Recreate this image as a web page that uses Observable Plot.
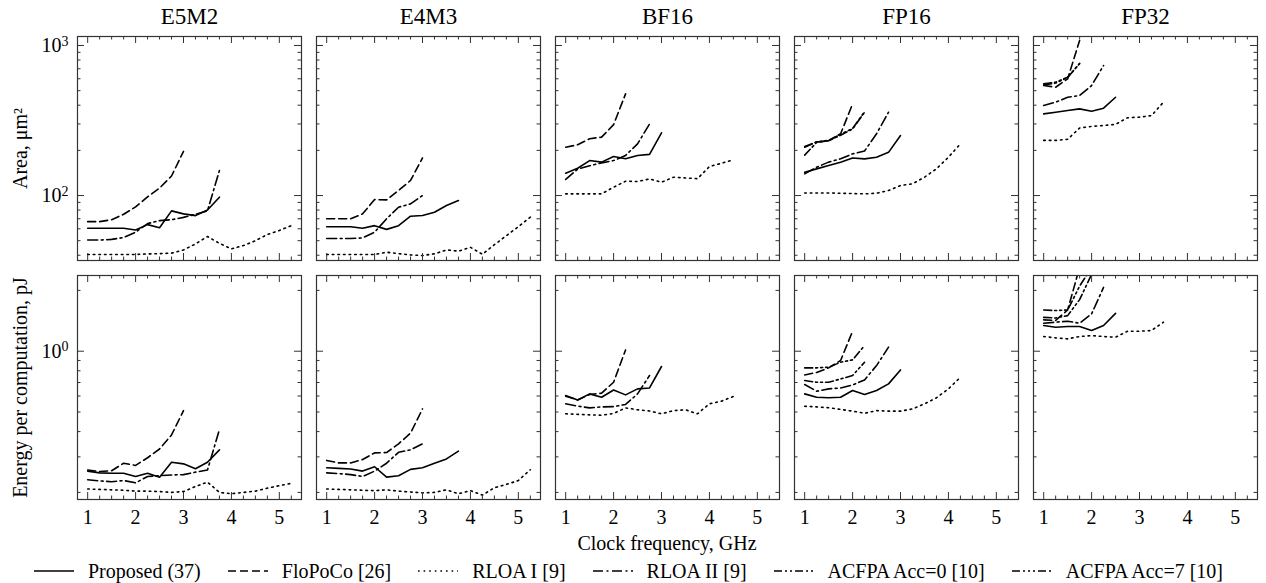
<!DOCTYPE html>
<html><head><meta charset="utf-8">
<script src="https://cdn.jsdelivr.net/npm/d3@7"></script>
<script src="https://cdn.jsdelivr.net/npm/@observablehq/plot@0.6"></script>
<style>
body{margin:0;background:#fff;font-family:"Liberation Serif","Times New Roman",serif;color:#000;}
#wrap{position:relative;width:1266px;height:583px;overflow:hidden;}
#top{position:absolute;left:0;top:0;}
#bot{position:absolute;left:0;top:268px;}
#xtitle{position:absolute;left:77px;width:1180px;top:531px;text-align:center;font-size:20px;line-height:24px;}
#legend{position:absolute;left:33px;top:559px;display:flex;align-items:center;font-size:20px;line-height:24px;white-space:nowrap;}
.item{display:flex;align-items:center;margin-right:26px;}
.item svg{margin-right:13px;}
</style></head><body><div id="wrap"><div id="top"></div><div id="bot"></div><div id="xtitle">Clock frequency, GHz</div><div id="legend"></div></div>
<script>
const formats = ["E5M2", "E4M3", "BF16", "FP16", "FP32"];
const freqs = [1, 1.25, 1.5, 1.75, 2, 2.25, 2.5, 2.75, 3, 3.25, 3.5, 3.75, 4, 4.25, 4.5, 4.75, 5, 5.25];
const seriesNames = ["Proposed (37)", "FloPoCo [26]", "RLOA I [9]", "RLOA II [9]", "ACFPA Acc=0 [10]", "ACFPA Acc=7 [10]"];
const xMajor = [1, 2, 3, 4, 5];
const xMinor = [1.25, 1.5, 1.75, 2.25, 2.5, 2.75, 3.25, 3.5, 3.75, 4.25, 4.5, 4.75, 5.25];
const areaMajor = [100, 1000];
const areaMinor = [40, 50, 60, 70, 80, 90, 200, 300, 400, 500, 600, 700, 800, 900];
const energyMajor = [1];
const energyMinor = [0.2, 0.3, 0.4, 0.5, 0.6, 0.7, 0.8, 0.9, 2];

// Area, um^2 — one inner array per format (E5M2, E4M3, BF16, FP16, FP32), values at freqs[0..]
const areaProposed = [
  [60.5, 60.5, 60.5, 60.5, 59, 64, 61, 79, 75.5, 73.5, 80, 97.5],
  [62, 62, 62, 60.5, 63, 59.5, 63, 72.8, 73.6, 77.4, 85.8, 92.6],
  [141, 152, 171, 167, 182, 176, 185, 188, 262],
  [143, 150.6, 158.5, 166.8, 178, 175.6, 180, 194, 251],
  [350, 359, 369, 378, 365, 382, 452]
];
const areaFloPoCo = [
  [67, 67, 69, 75, 84, 98, 112, 135, 197],
  [70, 70, 70, 75.5, 94, 93.5, 108, 126, 178],
  [210, 218, 239, 245, 297, 476],
  [210, 227, 232, 258, 408],
  [541, 527, 599, 1080]
];
const areaRLOA1 = [
  [40.5, 40.5, 40.5, 40.5, 40.5, 40.8, 41, 41.3, 43.4, 47.6, 53.3, 48, 44.1, 46.4, 50, 55, 58.5, 63],
  [40.5, 40.5, 40.5, 40.5, 40.5, 41.9, 41, 40.2, 39.8, 40.9, 43.4, 42.6, 45.2, 40.6, 47, 54, 62, 71.7],
  [102.6, 102.6, 102.6, 102.6, 113.6, 124.6, 124, 129, 122.7, 132.5, 131, 129.5, 156, 164, 173],
  [104, 104, 104, 103.6, 103, 102.6, 103.6, 108, 116.6, 119.6, 132.5, 150.6, 180, 221],
  [233, 233, 237, 282, 289, 293, 298, 330, 333, 341, 419]
];
const areaRLOA2 = [
  [50.5, 50.5, 51, 52.5, 57, 65, 68, 69, 71.5, 75, 79, 147],
  [51.7, 51.7, 51.7, 52.2, 57, 70, 83.6, 88, 100],
  [128, 150, 158, 165, 171, 185, 221, 300],
  [139.5, 154.5, 167, 175.6, 189.5, 198, 258, 359],
  [398, 419, 452, 464, 541, 736]
];
const areaACFPA0 = [[], [], [], [186, 226, 232, 252, 278, 359], [555, 569, 615, 755]];
const areaACFPA7 = [[], [], [], [212, 228, 233, 256, 280, 362], [545, 562, 612, 760]];

// Energy per computation, pJ
const energyProposed = [
  [0.255, 0.25, 0.249, 0.249, 0.24, 0.249, 0.238, 0.282, 0.277, 0.262, 0.282, 0.325],
  [0.265, 0.263, 0.261, 0.255, 0.268, 0.238, 0.242, 0.26, 0.265, 0.279, 0.293, 0.32],
  [0.603, 0.574, 0.615, 0.592, 0.643, 0.608, 0.651, 0.658, 0.84],
  [0.615, 0.592, 0.588, 0.592, 0.639, 0.611, 0.639, 0.689, 0.808],
  [1.34, 1.315, 1.325, 1.325, 1.266, 1.34, 1.54]
];
const energyFloPoCo = [
  [0.258, 0.254, 0.256, 0.279, 0.272, 0.297, 0.328, 0.385, 0.508],
  [0.288, 0.28, 0.28, 0.291, 0.314, 0.315, 0.348, 0.393, 0.518],
  [0.599, 0.574, 0.61, 0.62, 0.702, 1.015],
  [0.763, 0.785, 0.827, 0.9, 1.256],
  [1.43, 1.42, 1.6, 2.6]
];
const energyRLOA1 = [
  [0.208, 0.207, 0.206, 0.205, 0.203, 0.203, 0.202, 0.2, 0.202, 0.214, 0.225, 0.2, 0.197, 0.2, 0.203, 0.21, 0.216, 0.222],
  [0.208, 0.207, 0.206, 0.205, 0.204, 0.206, 0.203, 0.201, 0.199, 0.2, 0.206, 0.197, 0.204, 0.194, 0.211, 0.219, 0.229, 0.259],
  [0.49, 0.487, 0.484, 0.482, 0.492, 0.524, 0.513, 0.506, 0.49, 0.508, 0.513, 0.49, 0.549, 0.566, 0.597],
  [0.534, 0.53, 0.525, 0.515, 0.505, 0.493, 0.508, 0.505, 0.505, 0.518, 0.549, 0.588, 0.651, 0.743],
  [1.182, 1.164, 1.151, 1.182, 1.195, 1.182, 1.173, 1.256, 1.256, 1.266, 1.392]
];
const energyRLOA2 = [
  [0.231, 0.228, 0.226, 0.229, 0.223, 0.24, 0.242, 0.244, 0.245, 0.252, 0.258, 0.41],
  [0.25, 0.248, 0.245, 0.24, 0.255, 0.279, 0.316, 0.325, 0.348],
  [0.549, 0.535, 0.524, 0.53, 0.532, 0.545, 0.615, 0.758],
  [0.684, 0.634, 0.651, 0.658, 0.681, 0.721, 0.849, 1.047],
  [1.376, 1.392, 1.407, 1.376, 1.53, 2.07]
];
const energyACFPA0 = [[], [], [], [0.716, 0.702, 0.702, 0.729, 0.758, 0.882], [1.47, 1.46, 1.5, 1.8, 2.4]];
const energyACFPA7 = [[], [], [], [0.827, 0.827, 0.833, 0.882, 0.906, 1.067], [1.6, 1.59, 1.6, 2.1, 2.6]];

const dashes = ["none", "8,4", "1.6,4", "10,3.5,2,3.5", "8,3,2,3,2,3", "8,3,2,3,2,3,2,3"];

function toRows(seriesArrays) {
  const rows = [];
  seriesArrays.forEach((byFormat, s) => {
    byFormat.forEach((vals, f) => {
      vals.forEach((v, i) => rows.push({series: seriesNames[s], format: formats[f], freq: freqs[i], value: v}));
    });
  });
  return rows;
}
const areaRows = toRows([areaProposed, areaFloPoCo, areaRLOA1, areaRLOA2, areaACFPA0, areaACFPA7]);
const energyRows = toRows([energyProposed, energyFloPoCo, energyRLOA1, energyRLOA2, energyACFPA0, energyACFPA7]);

const W = 224, H = 224, MAJ = 7, MIN = 3.5, tickColor = "#333";
const font = "'Liberation Serif', 'Times New Roman', serif";

function ticks(yMajor, yMinor) {
  return [
    Plot.tickX(xMajor, {x: d => d, insetTop: H - MAJ, stroke: tickColor}),
    Plot.tickX(xMinor, {x: d => d, insetTop: H - MIN, stroke: tickColor}),
    Plot.tickX(xMajor, {x: d => d, insetBottom: H - MAJ, stroke: tickColor}),
    Plot.tickX(xMinor, {x: d => d, insetBottom: H - MIN, stroke: tickColor}),
    Plot.tickY(yMajor, {y: d => d, insetRight: W - MAJ, stroke: tickColor}),
    Plot.tickY(yMinor, {y: d => d, insetRight: W - MIN, stroke: tickColor}),
    Plot.tickY(yMajor, {y: d => d, insetLeft: W - MAJ, stroke: tickColor}),
    Plot.tickY(yMinor, {y: d => d, insetLeft: W - MIN, stroke: tickColor})
  ];
}
function lines(rows) {
  return seriesNames.map((name, s) => Plot.line(rows.filter(r => r.series === name), {
    x: "freq", y: "value", fx: "format", stroke: "#000", strokeWidth: 1.6,
    strokeDasharray: dashes[s] === "none" ? null : dashes[s], clip: true
  }));
}
const fxOpts = {domain: formats, paddingInner: 15 / 239, paddingOuter: 0, round: false, axis: null, label: null};
const xOpts = {domain: [0.7875, 5.4625], axis: null};

const topPlot = Plot.plot({
  width: 1266, height: 268, marginTop: 36, marginBottom: 8, marginLeft: 77, marginRight: 9,
  fx: fxOpts, x: xOpts,
  y: {type: "log", domain: [36.9, 1148], axis: null},
  style: {fontFamily: font, fontSize: "20px", color: "#000", background: "transparent", overflow: "visible"},
  marks: [
    ...lines(areaRows),
    ...ticks(areaMajor, areaMinor),
    Plot.frame({stroke: tickColor, strokeWidth: 1.2}),
    Plot.axisFx({anchor: "top", tickSize: 0, tickPadding: 13, fontSize: 23, label: null}),
    Plot.axisY(areaMajor, {anchor: "left", tickSize: 0, tickPadding: 9, fontSize: 20, label: null, tickFormat: d => "10^" + Math.round(Math.log10(d))}),
    Plot.text(["Area, μm²"], {fx: () => "E5M2", text: d => d, frameAnchor: "left", textAnchor: "middle", lineAnchor: "middle", dx: -57, rotate: -90, fontSize: 20})
  ]
});

const botPlot = Plot.plot({
  width: 1266, height: 263, marginTop: 7, marginBottom: 32, marginLeft: 77, marginRight: 9,
  fx: fxOpts, x: xOpts,
  y: {type: "log", domain: [0.1845, 2.37], axis: null},
  style: {fontFamily: font, fontSize: "20px", color: "#000", background: "transparent", overflow: "visible"},
  marks: [
    ...lines(energyRows),
    ...ticks(energyMajor, energyMinor),
    Plot.frame({stroke: tickColor, strokeWidth: 1.2}),
    Plot.axisX(xMajor, {anchor: "bottom", tickSize: 0, tickPadding: 10, fontSize: 20, label: null, tickFormat: d => String(d)}),
    Plot.axisY(energyMajor, {anchor: "left", tickSize: 0, tickPadding: 9, fontSize: 20, label: null, tickFormat: d => "10^" + Math.round(Math.log10(d))}),
    Plot.text(["Energy per computation, pJ"], {fx: () => "E5M2", text: d => d, frameAnchor: "left", textAnchor: "middle", lineAnchor: "middle", dx: -57, rotate: -90, fontSize: 20})
  ]
});

function superscripts(svg) {
  svg.querySelectorAll("text").forEach(t => {
    const m = /^10\^(-?\d+)$/.exec(t.textContent);
    if (m) {
      t.textContent = "10";
      const ts = document.createElementNS("http://www.w3.org/2000/svg", "tspan");
      ts.setAttribute("dy", "-0.45em");
      ts.setAttribute("font-size", "0.7em");
      ts.textContent = m[1];
      t.appendChild(ts);
    }
  });
}
superscripts(topPlot); superscripts(botPlot);
document.getElementById("top").appendChild(topPlot);
document.getElementById("bot").appendChild(botPlot);

const legend = document.getElementById("legend");
seriesNames.forEach((name, s) => {
  const item = document.createElement("div");
  item.className = "item";
  item.innerHTML = `<svg width="42" height="10"><line x1="1" y1="5" x2="41" y2="5" stroke="#000" stroke-width="1.6" ${dashes[s] === "none" ? "" : `stroke-dasharray="${dashes[s]}"`}/></svg><span>${name}</span>`;
  legend.appendChild(item);
});
</script></body></html>
